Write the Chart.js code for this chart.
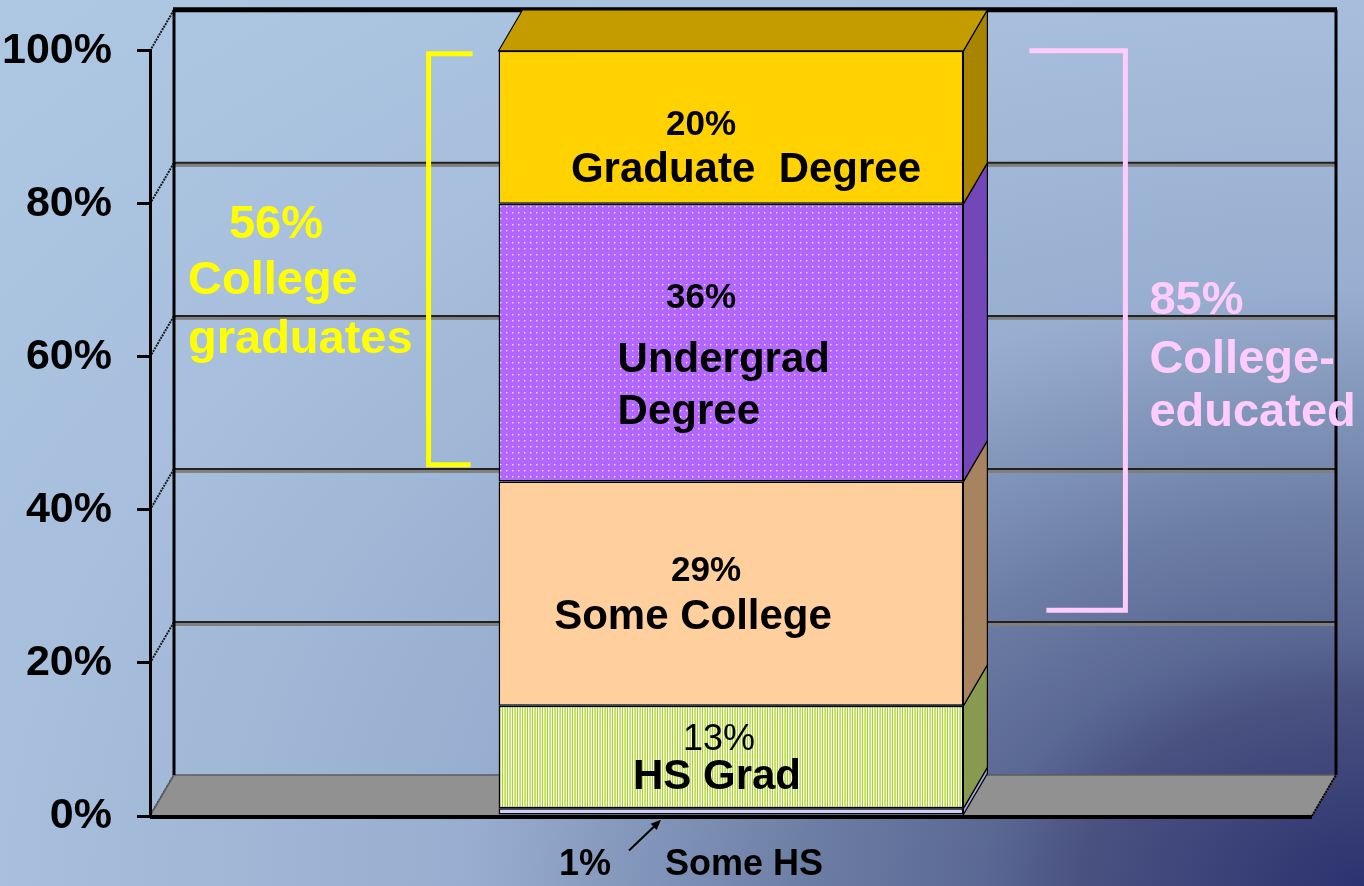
<!DOCTYPE html>
<html>
<head>
<meta charset="utf-8">
<script src="https://cdn.jsdelivr.net/npm/chart.js@4.4.0/dist/chart.umd.min.js"></script>
<style>
  html, body { margin: 0; padding: 0; background: #a9c3e0; }
  #wrap { width: 1364px; height: 886px; position: relative; }
</style>
</head>
<body>
<div id="wrap"><canvas id="chart"></canvas></div>
<script>
// data
const categories = [''];
const segmentNames = ['Some HS', 'HS Grad', 'Some College', 'Undergrad Degree', 'Graduate Degree'];
const segmentValues = [1, 13.4, 29.3, 36.3, 20];
const segmentPct = ['1%', '13%', '29%', '36%', '20%'];
const yTicks = [0, 20, 40, 60, 80, 100];
const collegeGradRange = [45.9, 99.6];   // yellow bracket, 56%
const collegeEduRange = [26.9, 100];     // pink bracket, 85%

const FONT = "'Liberation Sans', Arial, sans-serif";
const DX = 24, DY = -41;   // depth of the 3d box

const canvas = document.getElementById('chart');
const ctx0 = canvas.getContext('2d');

function dotPattern() {
    const c = document.createElement('canvas');
    c.width = 6; c.height = 6;
    const g = c.getContext('2d');
    g.fillStyle = '#b366fb';
    g.fillRect(0, 0, 6, 6);
    g.fillStyle = 'rgba(245,232,255,0.9)';
    g.fillRect(2, 2, 1.4, 1.4);
    return ctx0.createPattern(c, 'repeat');
}

function stripePattern() {
    const cols = ['#bfe25a', '#f4fbe0', '#a6d12a', '#ffffff', '#cde87c'];
    const c = document.createElement('canvas');
    c.width = cols.length; c.height = 2;
    const g = c.getContext('2d');
    cols.forEach((col, i) => { g.fillStyle = col; g.fillRect(i, 0, 1, 2); });
    return ctx0.createPattern(c, 'repeat');
}

const frontColors = ['#ccccff', stripePattern(), '#ffcf9d', dotPattern(), '#ffd200'];
const sideColors = ['#a4a4dc', '#889a50', '#a8835f', '#7447b8', '#a88400'];
const topColor = '#c49c00';

function txt(ctx, s, x, y, size, color, align, weight) {
    ctx.save();
    ctx.font = `${weight || 'bold'} ${size}px ${FONT}`;
    ctx.fillStyle = color;
    ctx.textAlign = align || 'center';
    ctx.textBaseline = 'middle';
    ctx.fillText(s, x, y + 3);
    ctx.restore();
}

const stage = {
    id: 'stage',
    beforeDraw(chart) {
        const {ctx, chartArea: a, scales: {y}} = chart;
        const W = chart.width, H = chart.height;
        // background, dark in the lower right corner
        ctx.save();
        ctx.translate(W, H);
        ctx.scale(1.5, 1);
        const g = ctx.createRadialGradient(0, 0, 0, 0, 0, 1270);
        g.addColorStop(0, '#2c326e');
        g.addColorStop(0.15, '#4a5282');
        g.addColorStop(0.2, '#5a6894');
        g.addColorStop(0.29, '#6c7da4');
        g.addColorStop(0.47, '#98aed0');
        g.addColorStop(0.71, '#a7bfdc');
        g.addColorStop(1, '#aec8e4');
        ctx.fillStyle = g;
        ctx.fillRect(-W / 1.5, -H, W / 1.5, H);
        ctx.restore();

        const bl = a.left + DX, br = a.right + DX;
        const y0 = y.getPixelForValue(0), y100 = y.getPixelForValue(100);
        ctx.save();
        yTicks.forEach(v => {
            const fy = y.getPixelForValue(v), by = fy + DY;
            if (v > 0 && v < 100) {
                ctx.fillStyle = '#7f7f7f';
                ctx.fillRect(bl, by, br - bl, 4);
                ctx.strokeStyle = '#222';
                ctx.lineWidth = 2;
                ctx.beginPath(); ctx.moveTo(bl, by); ctx.lineTo(br, by); ctx.stroke();
            }
            ctx.strokeStyle = '#1a1a1a';
            ctx.lineWidth = 2;
            ctx.setLineDash([2, 1]);
            ctx.beginPath(); ctx.moveTo(a.left, fy); ctx.lineTo(bl, by); ctx.stroke();
            ctx.setLineDash([]);
        });
        // floor
        ctx.fillStyle = '#919191';
        ctx.strokeStyle = '#5c5c5c';
        ctx.lineWidth = 1.5;
        ctx.beginPath();
        ctx.moveTo(a.left, y0); ctx.lineTo(a.right, y0);
        ctx.lineTo(br, y0 + DY); ctx.lineTo(bl, y0 + DY);
        ctx.closePath(); ctx.fill(); ctx.stroke();
        // back frame
        ctx.strokeStyle = '#000';
        ctx.lineWidth = 3;
        ctx.beginPath();
        ctx.moveTo(bl, y0 + DY); ctx.lineTo(bl, y100 + DY);
        ctx.moveTo(br, y0 + DY); ctx.lineTo(br, y100 + DY);
        ctx.stroke();
        ctx.lineWidth = 5;
        ctx.beginPath(); ctx.moveTo(bl - 1, y100 + DY); ctx.lineTo(br + 1, y100 + DY); ctx.stroke();
        ctx.restore();
    },
    afterDatasetsDraw(chart) {
        const {ctx, chartArea: a, scales: {y}} = chart;
        const Y = v => y.getPixelForValue(v);
        const n = chart.data.datasets.length;
        let barL = 0, barR = 0, barC = 0;
        ctx.save();
        for (let i = 0; i < n; i++) {
            const el = chart.getDatasetMeta(i).data[0];
            const p = el.getProps(['x', 'y', 'base', 'width'], true);
            const l = p.x - p.width / 2, r = p.x + p.width / 2;
            barL = l; barR = r; barC = p.x;
            ctx.fillStyle = sideColors[i];
            ctx.strokeStyle = '#000';
            ctx.lineWidth = 1.2;
            ctx.beginPath();
            ctx.moveTo(r, p.y); ctx.lineTo(r + DX, p.y + DY);
            ctx.lineTo(r + DX, p.base + DY); ctx.lineTo(r, p.base);
            ctx.closePath(); ctx.fill(); ctx.stroke();
            if (i === n - 1) {
                ctx.fillStyle = topColor;
                ctx.beginPath();
                ctx.moveTo(l, p.y); ctx.lineTo(r, p.y);
                ctx.lineTo(r + DX, p.y + DY); ctx.lineTo(l + DX, p.y + DY);
                ctx.closePath(); ctx.fill(); ctx.stroke();
            }
        }
        // front floor edge
        ctx.strokeStyle = '#000';
        ctx.lineWidth = 4;
        ctx.beginPath(); ctx.moveTo(a.left, Y(0) + 1); ctx.lineTo(a.right, Y(0) + 1); ctx.stroke();
        ctx.lineWidth = 2;
        ctx.setLineDash([2, 1]);
        ctx.beginPath(); ctx.moveTo(a.right, Y(0)); ctx.lineTo(a.right + DX, Y(0) + DY); ctx.stroke();
        ctx.setLineDash([]);

        // labels in the bar
        txt(ctx, segmentPct[4], barC - 30, Y(90.7), 35, '#000');
        txt(ctx, 'Graduate  Degree', barC + 15, Y(84.7), 42, '#000');
        txt(ctx, segmentPct[3], barC - 30, Y(68.1), 35, '#000');
        txt(ctx, 'Undergrad', barL + 119, Y(59.9), 42, '#000', 'left');
        txt(ctx, 'Degree', barL + 119, Y(53.1), 42, '#000', 'left');
        txt(ctx, segmentPct[2], barC - 25, Y(32.4), 35, '#000');
        txt(ctx, 'Some College', barC - 38, Y(26.3), 42, '#000');
        txt(ctx, segmentPct[1], barC - 12, Y(10.3), 36, '#000', 'center', 'normal');
        txt(ctx, 'HS Grad', barC - 14, Y(5.4), 42, '#000');
        txt(ctx, segmentPct[0], barC - 146, Y(-6.0), 36, '#000');
        txt(ctx, 'Some HS', barC + 13, Y(-6.0), 36, '#000');
        // arrow to the thin Some HS slice
        const ax0 = barC - 102, ay0 = Y(-4.5), ax1 = barC - 70, ay1 = Y(-0.5);
        ctx.strokeStyle = '#000';
        ctx.fillStyle = '#000';
        ctx.lineWidth = 2;
        ctx.beginPath(); ctx.moveTo(ax0, ay0); ctx.lineTo(ax1 - 4, ay1 + 4); ctx.stroke();
        const ang = Math.atan2(ay1 - ay0, ax1 - ax0);
        ctx.beginPath();
        ctx.moveTo(ax1, ay1);
        ctx.lineTo(ax1 - 11 * Math.cos(ang - 0.4), ay1 - 11 * Math.sin(ang - 0.4));
        ctx.lineTo(ax1 - 11 * Math.cos(ang + 0.4), ay1 - 11 * Math.sin(ang + 0.4));
        ctx.closePath(); ctx.fill();

        // yellow bracket: college graduates
        const yl = '#ffff00';
        ctx.strokeStyle = yl;
        ctx.lineWidth = 5;
        ctx.lineCap = 'butt';
        ctx.beginPath();
        ctx.moveTo(barL - 26, Y(collegeGradRange[1]));
        ctx.lineTo(barL - 70, Y(collegeGradRange[1]));
        ctx.lineTo(barL - 70, Y(collegeGradRange[0]));
        ctx.lineTo(barL - 28, Y(collegeGradRange[0]));
        ctx.stroke();
        txt(ctx, '56%', 276, Y(77.6), 47, yl);
        txt(ctx, 'College', 188, Y(70.3), 47, yl, 'left');
        txt(ctx, 'graduates', 188, Y(62.6), 47, yl, 'left');

        // pink bracket: college educated
        const pk = '#ffccff';
        ctx.strokeStyle = pk;
        ctx.beginPath();
        ctx.moveTo(barR + 66, Y(collegeEduRange[1]));
        ctx.lineTo(barR + 162, Y(collegeEduRange[1]));
        ctx.lineTo(barR + 162, Y(collegeEduRange[0]));
        ctx.lineTo(barR + 83, Y(collegeEduRange[0]));
        ctx.stroke();
        txt(ctx, '85%', barR + 186, Y(67.7), 47, pk, 'left');
        txt(ctx, 'College-', barR + 186, Y(60.0), 47, pk, 'left');
        txt(ctx, 'educated', barR + 186, Y(53.1), 47, pk, 'left');
        ctx.restore();
    }
};

new Chart(canvas, {
    type: 'bar',
    data: {
        labels: categories,
        datasets: segmentNames.map((name, i) => ({
            label: name,
            data: [segmentValues[i]],
            backgroundColor: frontColors[i],
            borderColor: '#000',
            borderWidth: 1.5,
            borderSkipped: false,
            barPercentage: 0.4,
            categoryPercentage: 1
        }))
    },
    options: {
        responsive: true,
        maintainAspectRatio: false,
        animation: false,
        layout: {padding: {left: 0, right: 52, top: 50, bottom: 70}},
        scales: {
            x: {stacked: true, display: false},
            y: {
                stacked: true,
                min: 0, max: 100,
                afterFit: s => { s.width = 150; },
                ticks: {
                    stepSize: 20,
                    padding: 25,
                    color: '#000',
                    font: {family: FONT, size: 43, weight: 'bold'},
                    callback: v => v + '%'
                },
                grid: {drawOnChartArea: false, drawTicks: true, tickLength: 13, color: '#000', lineWidth: 3},
                border: {display: true, color: '#000', width: 3}
            }
        },
        plugins: {legend: {display: false}, tooltip: {enabled: false}}
    },
    plugins: [stage]
});
</script>
</body>
</html>
